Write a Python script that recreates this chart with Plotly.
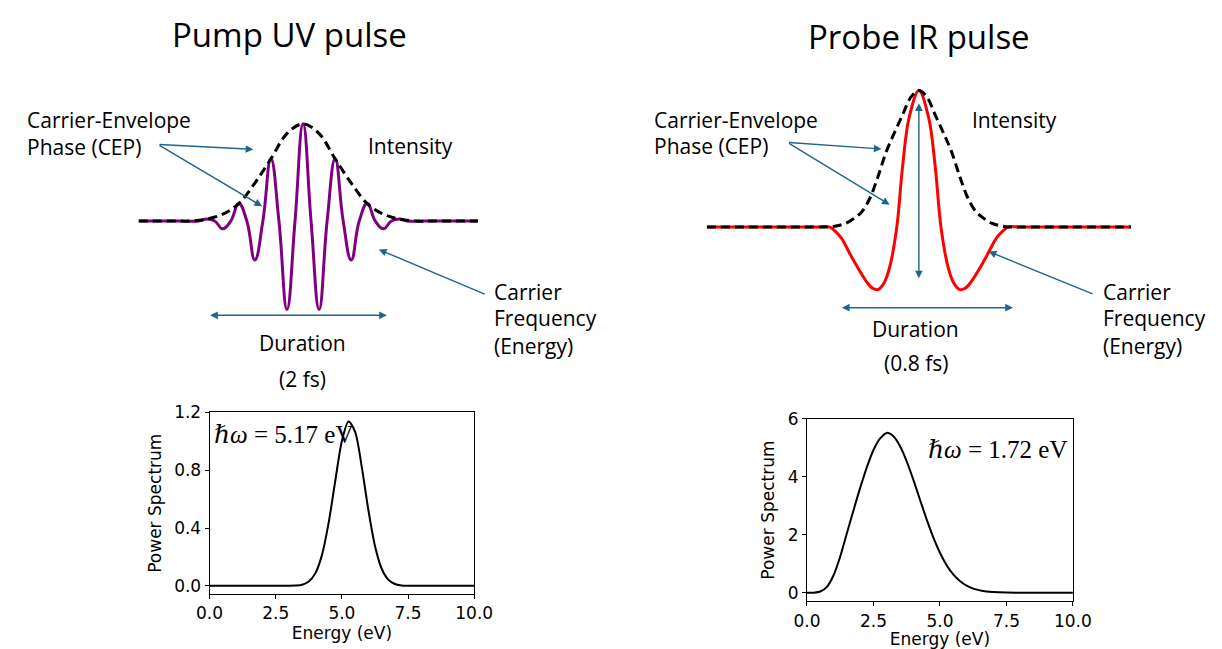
import plotly.graph_objects as go

# ---------------- data ----------------
# Pump UV pulse (time in carrier periods, field normalised to envelope peak)
pump_t = [-5.12, -3.75, -3.25, -3.0, -2.75, -2.5, -2.25, -2.0, -1.75, -1.5, -1.25, -1.0, -0.75, -0.5, -0.25,
          0.0, 0.25, 0.5, 0.75, 1.0, 1.25, 1.5, 1.75, 2.0, 2.25, 2.5, 2.75, 3.0, 3.25, 3.75, 5.45]
pump_field = [0.0, 0.0, 0.0, 0.02, 0.0, -0.08, 0.0, 0.18, 0.0, -0.40, 0.0, 0.64, 0.0, -0.91, 0.0,
              1.0, 0.0, -0.91, 0.0, 0.64, 0.0, -0.40, 0.0, 0.18, 0.0, -0.08, 0.0, 0.02, 0.0, 0.0, 0.0]
pump_env_t = [-5.12, -4.0, -3.5, -3.0, -2.5, -2.0, -1.5, -1.0, -0.5, 0.0, 0.5, 1.0, 1.5, 2.0, 2.5, 3.0, 3.5, 4.0, 5.45]
pump_env = [0.0, 0.0, 0.0, 0.02, 0.07, 0.18, 0.39, 0.64, 0.90, 1.0, 0.90, 0.64, 0.39, 0.18, 0.07, 0.02, 0.0, 0.0, 0.0]

# Probe IR pulse
probe_t = [-5.19, -3.0, -2.45, -2.2, -2.05, -1.9, -1.6, -1.26, -1.13, -1.0, -0.85, -0.71, -0.54, -0.40, -0.24, 0.0,
           0.24, 0.40, 0.54, 0.71, 0.85, 1.0, 1.13, 1.26, 1.6, 1.9, 2.05, 2.2, 2.45, 3.0, 5.19]
probe_field = [0.0, 0.0, 0.0, 0.0, -0.03, -0.08, -0.245, -0.41, -0.45, -0.46, -0.41, -0.29, 0.0, 0.44, 0.80, 1.0,
               0.80, 0.44, 0.0, -0.29, -0.41, -0.46, -0.45, -0.41, -0.245, -0.08, -0.03, 0.0, 0.0, 0.0, 0.0]
probe_env_t = [-5.19, -3.0, -2.4, -2.2, -2.0, -1.8, -1.6, -1.4, -1.2, -1.0, -0.8, -0.6, -0.4, -0.2, 0.0,
               0.2, 0.4, 0.6, 0.8, 1.0, 1.2, 1.4, 1.6, 1.8, 2.0, 2.2, 2.4, 3.0, 5.19]
probe_env = [0.0, 0.0, 0.0, 0.0, 0.008, 0.025, 0.06, 0.11, 0.21, 0.37, 0.55, 0.69, 0.82, 0.95, 1.0,
             0.95, 0.82, 0.69, 0.55, 0.37, 0.21, 0.11, 0.06, 0.025, 0.008, 0.0, 0.0, 0.0, 0.0]

# Power spectra
pump_E = [0.0, 2.5, 3.0, 3.25, 3.5, 3.75, 4.0, 4.25, 4.5, 4.75, 5.0, 5.25, 5.5, 5.75, 6.0,
          6.25, 6.5, 6.75, 7.0, 7.25, 7.5, 8.0, 10.0]
pump_S = [0.0, 0.0, 0.0004, 0.002, 0.008, 0.030, 0.088, 0.216, 0.437, 0.727, 1.002, 1.137, 1.065,
          0.823, 0.525, 0.276, 0.120, 0.043, 0.013, 0.003, 0.0005, 0.0, 0.0]
probe_E = [0.0, 0.25, 0.5, 0.75, 1.0, 1.25, 1.5, 1.75, 2.0, 2.25, 2.5, 2.75, 3.0, 3.25, 3.5,
           3.75, 4.0, 4.25, 4.5, 4.75, 5.0, 5.25, 5.5, 5.75, 6.0, 6.25, 6.5, 6.75, 7.0, 7.5, 8.0, 10.0]
probe_S = [0.0, 0.0, 0.04, 0.2, 0.6, 1.25, 2.05, 2.85, 3.62, 4.33, 4.93, 5.33, 5.52, 5.40, 5.06,
           4.54, 3.90, 3.21, 2.53, 1.91, 1.38, 0.95, 0.63, 0.40, 0.24, 0.14, 0.079, 0.04, 0.02, 0.003, 0.0, 0.0]

energy_ticks = [0, 2.5, 5, 7.5, 10]
pump_S_ticks = [0.0, 0.4, 0.8, 1.2]
probe_S_ticks = [0, 2, 4, 6]

titles = ["Pump UV pulse", "Probe IR pulse"]
hw_labels = ["<i>ℏω</i> = 5.17 eV", "<i>ℏω</i> = 1.72 eV"]
durations = ["(2 fs)", "(0.8 fs)"]

# ---------------- layout helpers ----------------
W, H = 1222, 649
def px(x):
    return x / W
def py(y):
    return 1 - y / H

PURPLE = "#800080"
RED = "#ff0000"
ARROW = "#1f668c"
SANS = "Open Sans, Noto Sans, Arial, sans-serif"
MPL = "DejaVu Sans, sans-serif"
SERIF = "Liberation Serif, DejaVu Serif, serif"

fig = go.Figure()

# pump pulse
fig.add_trace(go.Scatter(x=pump_t, y=pump_field, mode="lines", xaxis="x", yaxis="y",
                         line=dict(color=PURPLE, width=3, shape="spline", smoothing=1.3)))
fig.add_trace(go.Scatter(x=pump_env_t, y=pump_env, mode="lines", xaxis="x", yaxis="y",
                         line=dict(color="black", width=3, dash="9px,5px", shape="spline", smoothing=1.0)))
# probe pulse
fig.add_trace(go.Scatter(x=probe_t, y=probe_field, mode="lines", xaxis="x2", yaxis="y2",
                         line=dict(color=RED, width=3, shape="spline", smoothing=1.0)))
fig.add_trace(go.Scatter(x=probe_env_t, y=probe_env, mode="lines", xaxis="x2", yaxis="y2",
                         line=dict(color="black", width=3, dash="9px,5px", shape="spline", smoothing=1.0)))
# spectra
fig.add_trace(go.Scatter(x=pump_E, y=pump_S, mode="lines", xaxis="x3", yaxis="y3",
                         line=dict(color="black", width=2, shape="spline", smoothing=0.8)))
fig.add_trace(go.Scatter(x=probe_E, y=probe_S, mode="lines", xaxis="x4", yaxis="y4",
                         line=dict(color="black", width=2, shape="spline", smoothing=0.8)))

hidden = dict(visible=False, fixedrange=True)
spec_x = dict(range=[0, 10], tickvals=energy_ticks, tickformat=".1f", showline=True, mirror=True,
              linecolor="black", linewidth=1, ticks="outside", ticklen=4, tickcolor="black",
              showgrid=False, zeroline=False, tickfont=dict(family=MPL, size=17, color="black"),
              title=dict(text="Energy (eV)", font=dict(family=MPL, size=17, color="black"), standoff=3))
spec_y = dict(showline=True, mirror=True, linecolor="black", linewidth=1, ticks="outside", ticklen=4,
              tickcolor="black", showgrid=False, zeroline=False,
              tickfont=dict(family=MPL, size=17, color="black"),
              title=dict(text="Power Spectrum", font=dict(family=MPL, size=17, color="black"), standoff=8))

fig.update_layout(
    width=W, height=H, margin=dict(l=0, r=0, t=0, b=0),
    paper_bgcolor="white", plot_bgcolor="rgba(0,0,0,0)", showlegend=False,
    xaxis=dict(domain=[px(128), px(477)], range=[-5.12, 5.45], **hidden),
    yaxis=dict(domain=[py(314), py(106.1)], range=[-1.0, 1.1], **hidden),
    xaxis2=dict(domain=[px(712), px(1148)], range=[-5.19, 5.19], anchor="y2", **hidden),
    yaxis2=dict(domain=[py(318.3), py(68.1)], range=[-0.7, 1.1], anchor="x2", **hidden),
    xaxis3=dict(domain=[px(201), px(473)], anchor="y3", **spec_x),
    yaxis3=dict(domain=[py(595), py(410)], range=[-0.0564, 1.2], tickvals=pump_S_ticks,
                tickformat=".1f", anchor="x3", **spec_y),
    xaxis4=dict(domain=[px(815), px(1088.3)], anchor="y4", **spec_x),
    yaxis4=dict(domain=[py(602.3), py(416.7)], range=[-0.294, 6.0], tickvals=probe_S_ticks,
                tickformat="d", anchor="x4", **spec_y),
)

ann = []
def text(s, x, y, size=21, xanchor="left", family=SANS):
    ann.append(dict(text=s, x=px(x), y=py(y), xref="paper", yref="paper", xanchor=xanchor,
                    yanchor="middle", showarrow=False, font=dict(family=family, size=size, color="black")))

def arrow(xr, yr, x0, y0, x1, y1, both=False):
    ann.append(dict(text="", x=x1, y=y1, ax=x0, ay=y0, xref=xr, yref=yr, axref=xr, ayref=yr,
                    showarrow=True, arrowhead=2, arrowsize=1.1, arrowwidth=1.4, arrowcolor=ARROW,
                    standoff=0, startstandoff=0, arrowside="end+start" if both else "end",
                    startarrowhead=2, startarrowsize=1.1))

# titles
text(titles[0], 283, 25, size=33, xanchor="center")
text(titles[1], 930, 27, size=33, xanchor="center")

# left panel labels
text("Carrier-Envelope", 11, 112)
text("Phase (CEP)", 11, 140)
text("Intensity", 362, 139)
text("Carrier", 491, 287)
text("Frequency", 491, 314)
text("(Energy)", 491, 342)
text("Duration", 296, 339, xanchor="center")
text(durations[0], 296, 376, xanchor="center")

# right panel labels
text("Carrier-Envelope", 656, 112)
text("Phase (CEP)", 656, 139)
text("Intensity", 983, 112)
text("Carrier", 1117, 287)
text("Frequency", 1117, 314)
text("(Energy)", 1117, 342)
text("Duration", 927, 325, xanchor="center")
text(durations[1], 927, 360, xanchor="center")

# spectrum labels
text(hw_labels[0], 203, 432, size=25, family=SERIF)
text(hw_labels[1], 937, 448, size=25, family=SERIF)

# arrows (pump axes units)
arrow("x", "y", -4.515, 0.788, -1.545, 0.737)
arrow("x", "y", -4.515, 0.788, -1.273, 0.152)
arrow("x", "y", 5.70, -0.758, 2.36, -0.293)
arrow("x", "y", -2.94, -0.970, 2.61, -0.970, both=True)
# arrows (probe axes units)
arrow("x2", "y2", -3.214, 0.619, -0.912, 0.571)
arrow("x2", "y2", -3.214, 0.619, -0.714, 0.163)
arrow("x2", "y2", 4.286, -0.496, 1.707, -0.180)
arrow("x2", "y2", -1.921, -0.592, 2.302, -0.592, both=True)
arrow("x2", "y2", 0.0, -0.388, 0.0, 0.906, both=True)

fig.update_layout(annotations=ann)
fig.write_html("out.html")
